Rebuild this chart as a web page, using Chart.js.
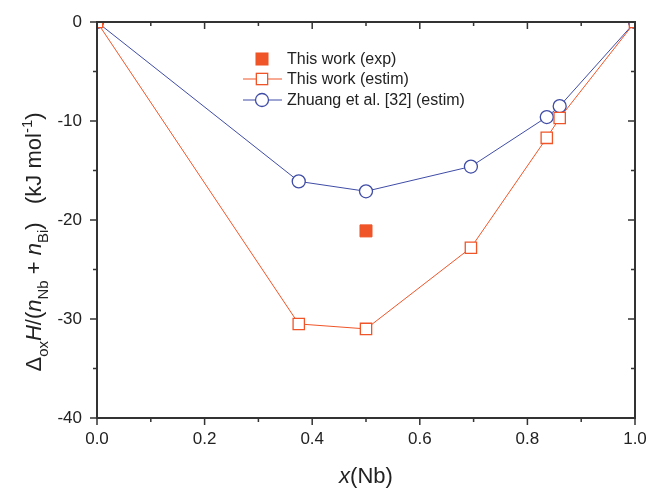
<!DOCTYPE html>
<html>
<head>
<meta charset="utf-8">
<script src="https://cdn.jsdelivr.net/npm/chart.js@4/dist/chart.umd.min.js"></script>
<style>
  html, body { margin: 0; padding: 0; background: #fff; }
  #wrap { width: 651px; height: 489px; }
</style>
</head>
<body>
<div id="wrap"><canvas id="chart" width="651" height="489"></canvas></div>
<script>
// data
const expX = [0.5];
const expY = [-21.1];
const estimX = [0, 0.375, 0.5, 0.695, 0.836, 0.86, 1.0];
const estimY = [0, -30.5, -31.0, -22.8, -11.7, -9.7, 0];
const zhuangX = [0, 0.375, 0.5, 0.695, 0.836, 0.86, 1.0];
const zhuangY = [0, -16.1, -17.1, -14.6, -9.6, -8.5, 0];
const xTicks = [0, 0.2, 0.4, 0.6, 0.8, 1.0];
const yTicks = [0, -10, -20, -30, -40];

const orange = '#ef5528';
const blue = '#3f4ca6';
const axisCol = '#333333';
const FONT = '"Liberation Sans", Arial, sans-serif';

function toPoints(xs, ys) {
    let pts = [];
    for (let i = 0; i < xs.length; i++) {
        pts.push({x: xs[i], y: ys[i]});
    }
    return pts;
}

// frame, tick marks, legend and rich axis titles
const decorPlugin = {
    id: 'decor',
    afterDraw(chart) {
        const ctx = chart.ctx;
        const a = chart.chartArea;
        const xs = chart.scales.x, ys = chart.scales.y;
        ctx.save();
        ctx.strokeStyle = axisCol;
        ctx.lineWidth = 2;
        ctx.strokeRect(a.left, a.top, a.right - a.left, a.bottom - a.top);
        ctx.lineWidth = 1.5;
        ctx.beginPath();
        for (let v = 0; v <= 10; v++) {
            const px = xs.getPixelForValue(v / 10);
            const len = v % 2 === 0 ? 7 : 4;
            ctx.moveTo(px, a.bottom); ctx.lineTo(px, a.bottom + len);
            ctx.moveTo(px, a.top); ctx.lineTo(px, a.top + len);
        }
        for (let v = 0; v >= -40; v -= 5) {
            const py = ys.getPixelForValue(v);
            const len = v % 10 === 0 ? 7 : 4;
            ctx.moveTo(a.left, py); ctx.lineTo(a.left - len, py);
            ctx.moveTo(a.right, py); ctx.lineTo(a.right - len, py);
        }
        ctx.stroke();

        // legend
        const rows = [59, 79, 100];
        const mx = 262;
        ctx.font = '16px ' + FONT;
        ctx.textBaseline = 'middle';
        ctx.textAlign = 'left';
        chart.data.datasets.forEach((ds, i) => {
            const y = rows[i];
            ctx.lineWidth = 1;
            if (ds.showLine) {
                ctx.strokeStyle = ds.borderColor;
                ctx.beginPath();
                ctx.moveTo(243, y); ctx.lineTo(282, y);
                ctx.stroke();
            }
            ctx.fillStyle = ds.pointBackgroundColor;
            ctx.strokeStyle = ds.pointBorderColor;
            ctx.lineWidth = ds.pointBorderWidth;
            if (ds.pointStyle === 'circle') {
                ctx.beginPath();
                ctx.arc(mx, y, ds.pointRadius, 0, Math.PI * 2);
                ctx.fill(); ctx.stroke();
            } else {
                const s = ds.pointRadius * Math.SQRT1_2;
                ctx.fillRect(mx - s, y - s, 2 * s, 2 * s);
                ctx.strokeRect(mx - s, y - s, 2 * s, 2 * s);
            }
            ctx.fillStyle = '#222';
            ctx.fillText(ds.label, 287, y + 1);
        });

        // x title: x(Nb)
        ctx.fillStyle = '#222';
        ctx.textBaseline = 'alphabetic';
        const xParts = [['x', 'italic 22px ' + FONT], ['(Nb)', '22px ' + FONT]];
        let w = 0;
        xParts.forEach(p => { ctx.font = p[1]; w += ctx.measureText(p[0]).width; });
        let cx = (a.left + a.right) / 2 - w / 2;
        xParts.forEach(p => { ctx.font = p[1]; ctx.fillText(p[0], cx, 483); cx += ctx.measureText(p[0]).width; });

        // y title, rotated
        const big = '22px ' + FONT, it = 'italic 22px ' + FONT, sm = '15px ' + FONT;
        const yParts = [
            ['\u0394', big, 0], ['ox', sm, 7], ['H', it, 0], ['/(', big, 0],
            ['n', it, 0], ['Nb', sm, 7], [' + ', big, 0], ['n', it, 0], ['Bi', sm, 7],
            [')', big, 0], ['   ', big, 0], ['(kJ mol', big, 0], ['-1', sm, -9], [')', big, 0]
        ];
        w = 0;
        yParts.forEach(p => { ctx.font = p[1]; w += ctx.measureText(p[0]).width; });
        ctx.translate(41, 242);
        ctx.rotate(-Math.PI / 2);
        cx = -w / 2;
        yParts.forEach(p => { ctx.font = p[1]; ctx.fillText(p[0], cx, p[2]); cx += ctx.measureText(p[0]).width; });
        ctx.restore();
    }
};

new Chart(document.getElementById('chart'), {
    type: 'scatter',
    data: {
        datasets: [{
            label: 'This work (exp)',
            data: toPoints(expX, expY),
            showLine: false,
            pointStyle: 'rect',
            pointRadius: 8.5,
            pointBorderWidth: 1,
            pointBackgroundColor: orange,
            pointBorderColor: orange,
            clip: 0
        }, {
            label: 'This work (estim)',
            data: toPoints(estimX, estimY),
            showLine: true,
            borderColor: orange,
            borderWidth: 1,
            pointStyle: 'rect',
            pointRadius: 8,
            pointBorderWidth: 1.3,
            pointBackgroundColor: '#ffffff',
            pointBorderColor: orange,
            clip: 0
        }, {
            label: 'Zhuang et al. [32] (estim)',
            data: toPoints(zhuangX, zhuangY),
            showLine: true,
            borderColor: blue,
            borderWidth: 1,
            pointStyle: 'circle',
            pointRadius: 6.5,
            pointBorderWidth: 1.3,
            pointBackgroundColor: '#ffffff',
            pointBorderColor: blue,
            clip: 0
        }]
    },
    options: {
        responsive: false,
        animation: false,
        layout: { padding: { top: 22, right: 16, left: 0, bottom: 0 } },
        plugins: { legend: { display: false }, tooltip: { enabled: false } },
        scales: {
            x: {
                type: 'linear', min: 0, max: 1,
                afterFit: s => { s.height = 71; s.paddingLeft = 0; s.paddingRight = 0; },
                afterBuildTicks: s => { s.ticks = xTicks.map(v => ({value: v})); },
                grid: { display: false, drawTicks: false },
                border: { display: false },
                ticks: {
                    padding: 11, color: '#222',
                    font: { family: FONT, size: 17 },
                    callback: v => v.toFixed(1)
                }
            },
            y: {
                type: 'linear', min: -40, max: 0,
                afterFit: s => { s.width = 97; s.paddingTop = 0; s.paddingBottom = 0; },
                afterBuildTicks: s => { s.ticks = yTicks.map(v => ({value: v})); },
                grid: { display: false, drawTicks: false },
                border: { display: false },
                ticks: {
                    padding: 15, color: '#222',
                    font: { family: FONT, size: 17 },
                    callback: v => String(v)
                }
            }
        }
    },
    plugins: [decorPlugin]
});
</script>
</body>
</html>
